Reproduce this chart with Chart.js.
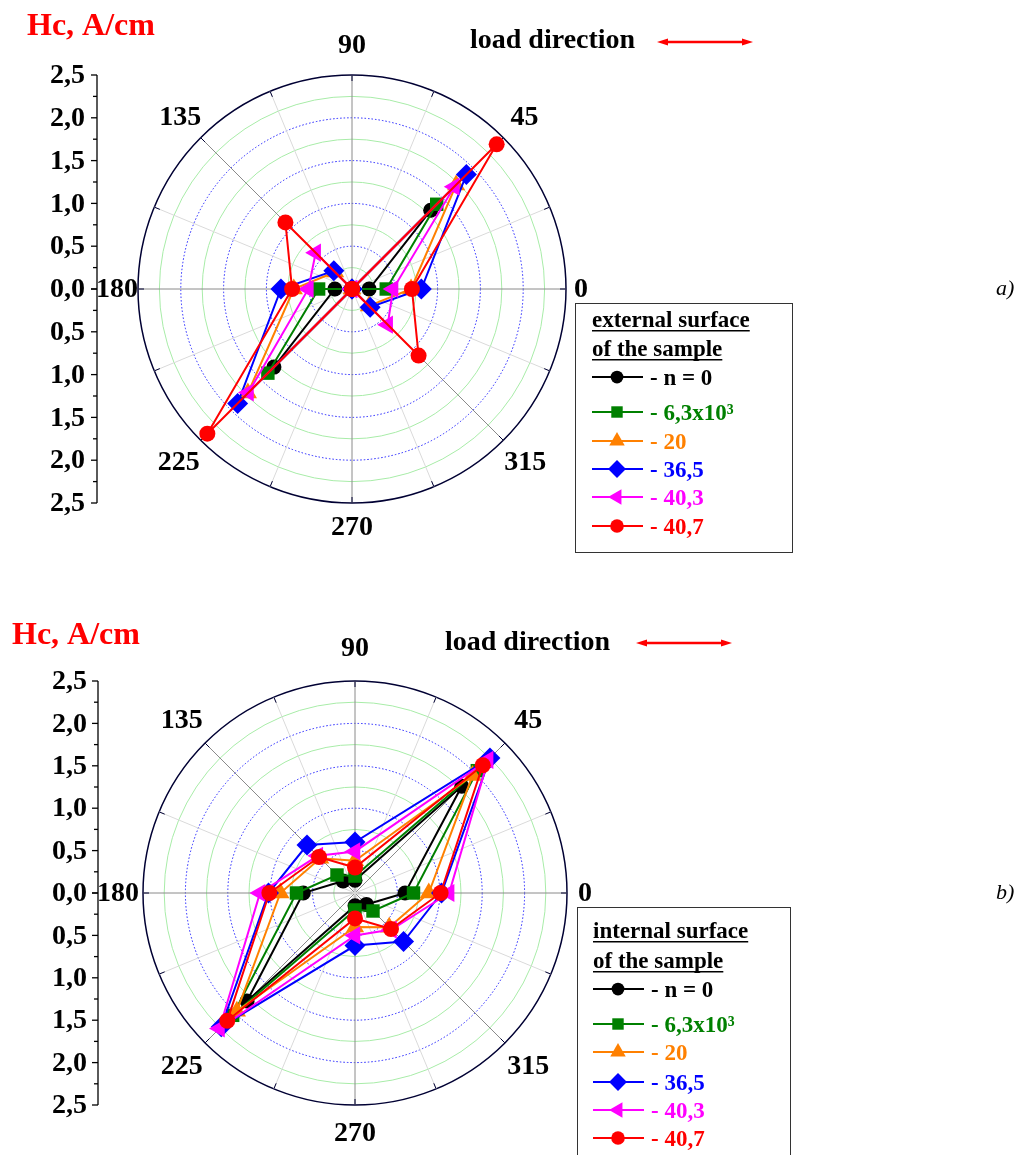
<!DOCTYPE html>
<html>
<head>
<meta charset="utf-8">
<title>Hc polar diagrams</title>
<script src="https://cdn.jsdelivr.net/npm/chart.js@4.4.1/dist/chart.umd.min.js"></script>
<style>
  html, body { margin: 0; padding: 0; background: #fff; }
  canvas { display: block; }
</style>
</head>
<body>
<canvas id="chartA" width="1026" height="577"></canvas>
<canvas id="chartB" width="1026" height="578"></canvas>
<script>
// measuring directions, degrees counter-clockwise from the load direction
const angles = [0, 45, 90, 135, 180, 225, 270, 315];
const angleLabels = ["0", "45", "90", "135", "180", "225", "270", "315"];
const seriesLabels = ["n = 0", "6,3x10³", "20", "36,5", "40,3", "40,7"];
const axisTicks = [2.5, 2.0, 1.5, 1.0, 0.5, 0.0];

// a) external surface of the sample, Hc in A/cm (order follows angles)
const extN0   = [0.20, 1.30, 0.00, 0.00, 0.20, 1.29, 0.00, 0.00];
const extN63  = [0.40, 1.40, 0.00, 0.00, 0.39, 1.39, 0.00, 0.00];
const extN20  = [0.69, 1.72, 0.00, 0.28, 0.68, 1.72, 0.00, 0.28];
const extN365 = [0.81, 1.89, 0.00, 0.30, 0.83, 1.89, 0.00, 0.30];
const extN403 = [0.48, 1.69, 0.00, 0.60, 0.51, 1.71, 0.00, 0.59];
const extN407 = [0.70, 2.39, 0.00, 1.10, 0.70, 2.39, 0.00, 1.10];

// b) internal surface of the sample
const intN0   = [0.59, 1.78, 0.15, 0.20, 0.61, 1.80, 0.15, 0.19];
const intN63  = [0.69, 2.04, 0.20, 0.30, 0.69, 2.04, 0.20, 0.30];
const intN20  = [0.87, 1.96, 0.38, 0.58, 0.88, 1.97, 0.40, 0.57];
const intN365 = [1.02, 2.25, 0.60, 0.80, 1.02, 2.23, 0.62, 0.81];
const intN403 = [1.11, 2.22, 0.49, 0.62, 1.12, 2.26, 0.50, 0.61];
const intN407 = [1.01, 2.13, 0.30, 0.60, 1.01, 2.13, 0.30, 0.60];

const seriesColors = ["#000000", "#008000", "#FF8000", "#0000FF", "#FF00FF", "#FF0000"];
const seriesMarkers = [
  { style: "circle",   radius: 7.5,  rotation: 0 },
  { style: "rect",     radius: 9.5,  rotation: 0 },
  { style: "triangle", radius: 10.5, rotation: 0 },
  { style: "rectRot",  radius: 10.5, rotation: 0 },
  { style: "triangle", radius: 10.5, rotation: -90 },
  { style: "circle",   radius: 8,    rotation: 0 }
];

const FONT = '"Liberation Serif", "Times New Roman", serif';

// radar goes clockwise from startAngle; with startAngle 90 index 0 sits at the right
const toRadar = arr => arr.map((_, i) => arr[(8 - i) % 8]);

function ringColor(c) {
  const v = c.tick.value;
  if (Math.abs(v - 2.5) < 1e-6) return "#000033";
  return Math.abs(v * 2 - Math.round(v * 2)) < 1e-6 ? "#2020FF" : "#A8ECA8";
}
function ringDash(c) {
  const v = c.tick.value;
  if (Math.abs(v - 2.5) < 1e-6) return [];
  return Math.abs(v * 2 - Math.round(v * 2)) < 1e-6 ? [1.5, 2] : [];
}

function drawArrow(ctx, x1, x2, y) {
  ctx.save();
  ctx.strokeStyle = "#FF0000";
  ctx.fillStyle = "#FF0000";
  ctx.lineWidth = 2.5;
  ctx.beginPath();
  ctx.moveTo(x1 + 8, y);
  ctx.lineTo(x2 - 8, y);
  ctx.stroke();
  [[x1, 1], [x2, -1]].forEach(([x, d]) => {
    ctx.beginPath();
    ctx.moveTo(x, y);
    ctx.lineTo(x + d * 11, y - 3.5);
    ctx.lineTo(x + d * 11, y + 3.5);
    ctx.closePath();
    ctx.fill();
  });
  ctx.restore();
}

function panelDecor(cfg) {
  return {
    id: "panelDecor",
    beforeDatasetsDraw(chart) {
      const r = chart.scales.r;
      const ctx = chart.ctx;
      const R = r.drawingArea;
      const n = chart.data.labels.length;
      ctx.save();
      ctx.lineWidth = 1;
      for (let i = 0; i < n; i++) {
        // light spokes between the labelled directions
        const a = r.getPointPosition(i + 0.5, R);
        ctx.strokeStyle = "#DADADA";
        ctx.beginPath();
        ctx.moveTo(r.xCenter, r.yCenter);
        ctx.lineTo(a.x, a.y);
        ctx.stroke();
        // ticks on the rim
        [i, i + 0.5].forEach(k => {
          const p = r.getPointPosition(k, R - 6);
          const q = r.getPointPosition(k, R);
          ctx.strokeStyle = "#000033";
          ctx.beginPath();
          ctx.moveTo(p.x, p.y);
          ctx.lineTo(q.x, q.y);
          ctx.stroke();
        });
      }
      ctx.restore();
    },
    afterDraw(chart) {
      const r = chart.scales.r;
      const ctx = chart.ctx;
      const R = r.drawingArea;
      ctx.save();

      // direction labels
      ctx.fillStyle = "#000";
      ctx.font = "bold 28px " + FONT;
      ctx.textAlign = "center";
      ctx.textBaseline = "middle";
      chart.data.labels.forEach((lab, i) => {
        const off = cfg.labelOffsets[angleLabels.indexOf(lab)];
        const p = r.getPointPosition(i, R + off);
        ctx.fillText(lab, p.x, p.y + 1);
      });

      // left Hc axis, both halves measured from the centre
      const ax = cfg.axisX;
      ctx.strokeStyle = "#000";
      ctx.lineWidth = 1.3;
      const top = r.yCenter - r.getDistanceFromCenterForValue(axisTicks[0]);
      const bot = r.yCenter + r.getDistanceFromCenterForValue(axisTicks[0]);
      ctx.beginPath();
      ctx.moveTo(ax, top);
      ctx.lineTo(ax, bot);
      ctx.stroke();
      ctx.textAlign = "right";
      ctx.font = "bold 28px " + FONT;
      axisTicks.forEach((v, k) => {
        const d = r.getDistanceFromCenterForValue(v);
        const lab = v.toFixed(1).replace(".", ",");
        [-1, 1].forEach(s => {
          const y = r.yCenter + s * d;
          ctx.beginPath();
          ctx.moveTo(ax - 6, y);
          ctx.lineTo(ax, y);
          ctx.stroke();
          if (s === -1 || v !== 0) ctx.fillText(lab, cfg.tickRight, y + 1);
          if (k + 1 < axisTicks.length) {
            const dm = r.getDistanceFromCenterForValue((v + axisTicks[k + 1]) / 2);
            const ym = r.yCenter + s * dm;
            ctx.beginPath();
            ctx.moveTo(ax - 4, ym);
            ctx.lineTo(ax, ym);
            ctx.stroke();
          }
        });
      });

      // quantity name
      ctx.textAlign = "left";
      ctx.textBaseline = "alphabetic";
      ctx.fillStyle = "#FF0000";
      ctx.font = "bold 32px " + FONT;
      ctx.fillText("Hc, A/cm", cfg.titleX, cfg.titleY);

      // load direction
      ctx.fillStyle = "#000";
      ctx.font = "bold 28px " + FONT;
      ctx.fillText("load direction", cfg.loadX, cfg.loadY);
      drawArrow(ctx, cfg.arrowX1, cfg.arrowX2, cfg.arrowY);

      // panel tag
      ctx.font = "italic 22px " + FONT;
      ctx.textBaseline = "middle";
      ctx.fillText(cfg.tag, cfg.tagX, r.yCenter);

      // legend box
      const L = cfg.legend;
      ctx.strokeStyle = "#333";
      ctx.lineWidth = 1;
      ctx.strokeRect(L.x + 0.5, L.y + 0.5, L.w, L.h);
      ctx.textBaseline = "alphabetic";
      ctx.font = "bold 23px " + FONT;
      ctx.fillStyle = "#000";
      L.title.forEach((t, k) => {
        const w = ctx.measureText(t).width;
        ctx.fillText(t, L.textX, L.titleY[k]);
        ctx.fillRect(L.textX, L.titleY[k] + 3, w, 1.5);
      });
      chart.data.datasets.forEach((ds, k) => {
        const y = L.rowY[k];
        ctx.strokeStyle = ds.borderColor;
        ctx.fillStyle = ds.borderColor;
        ctx.lineWidth = 2;
        ctx.beginPath();
        ctx.moveTo(L.textX, y);
        ctx.lineTo(L.textX + 51, y);
        ctx.stroke();
        Chart.helpers.drawPoint(ctx, {
          pointStyle: ds.pointStyle,
          rotation: ds.pointRotation,
          radius: ds.pointRadius * 0.85,
          borderWidth: 0
        }, L.textX + 25, y);
        ctx.fillText("- " + ds.label, L.textX + 58, y + 8);
      });
      ctx.restore();
    }
  };
}

function makePanel(canvasId, seriesData, cfg) {
  const datasets = seriesData.map((vals, k) => ({
    label: seriesLabels[k],
    data: toRadar(vals),
    borderColor: seriesColors[k],
    backgroundColor: seriesColors[k],
    pointBackgroundColor: seriesColors[k],
    pointBorderColor: seriesColors[k],
    pointBorderWidth: 0,
    borderWidth: 2,
    fill: false,
    tension: 0,
    pointStyle: seriesMarkers[k].style,
    pointRadius: seriesMarkers[k].radius,
    pointRotation: seriesMarkers[k].rotation,
    order: seriesData.length - k // later series drawn on top
  }));

  return new Chart(document.getElementById(canvasId), {
    type: "radar",
    data: { labels: toRadar(angleLabels), datasets: datasets },
    options: {
      responsive: false,
      animation: false,
      layout: { autoPadding: false, padding: cfg.padding },
      plugins: { legend: { display: false }, tooltip: { enabled: false } },
      scales: {
        r: {
          min: 0,
          max: 2.5,
          startAngle: 90,
          ticks: { display: false, stepSize: 0.25 },
          pointLabels: { display: false },
          grid: {
            circular: true,
            color: ringColor,
            lineWidth: c => (Math.abs(c.tick.value - 2.5) < 1e-6 ? 1.5 : 1)
          },
          border: { dash: ringDash },
          angleLines: { color: "#8A8A8A", lineWidth: 1 }
        }
      }
    },
    plugins: [panelDecor(cfg)]
  });
}

makePanel("chartA", [extN0, extN63, extN20, extN365, extN403, extN407], {
  padding: { left: 138, top: 75, right: 460, bottom: 74 },
  labelOffsets: [15, 30, 30, 29, 21, 31, 24, 31],
  axisX: 97, tickRight: 85,
  titleX: 27, titleY: 35,
  loadX: 470, loadY: 48,
  arrowX1: 657, arrowX2: 753, arrowY: 42,
  tag: "a)", tagX: 996,
  legend: {
    x: 575, y: 303, w: 217, h: 249, textX: 592,
    title: ["external surface", "of the sample"],
    titleY: [327, 356],
    rowY: [377, 412, 441, 469, 497, 526]
  }
});

makePanel("chartB", [intN0, intN63, intN20, intN365, intN403, intN407], {
  padding: { left: 143, top: 104, right: 459, bottom: 50 },
  labelOffsets: [18, 33, 33, 33, 25, 33, 28, 33],
  axisX: 98, tickRight: 87,
  titleX: 12, titleY: 67,
  loadX: 445, loadY: 73,
  arrowX1: 636, arrowX2: 732, arrowY: 66,
  tag: "b)", tagX: 996,
  legend: {
    x: 577, y: 330, w: 213, h: 260, textX: 593,
    title: ["internal surface", "of the sample"],
    titleY: [361, 391],
    rowY: [412, 447, 475, 505, 533, 561]
  }
});
</script>
</body>
</html>
